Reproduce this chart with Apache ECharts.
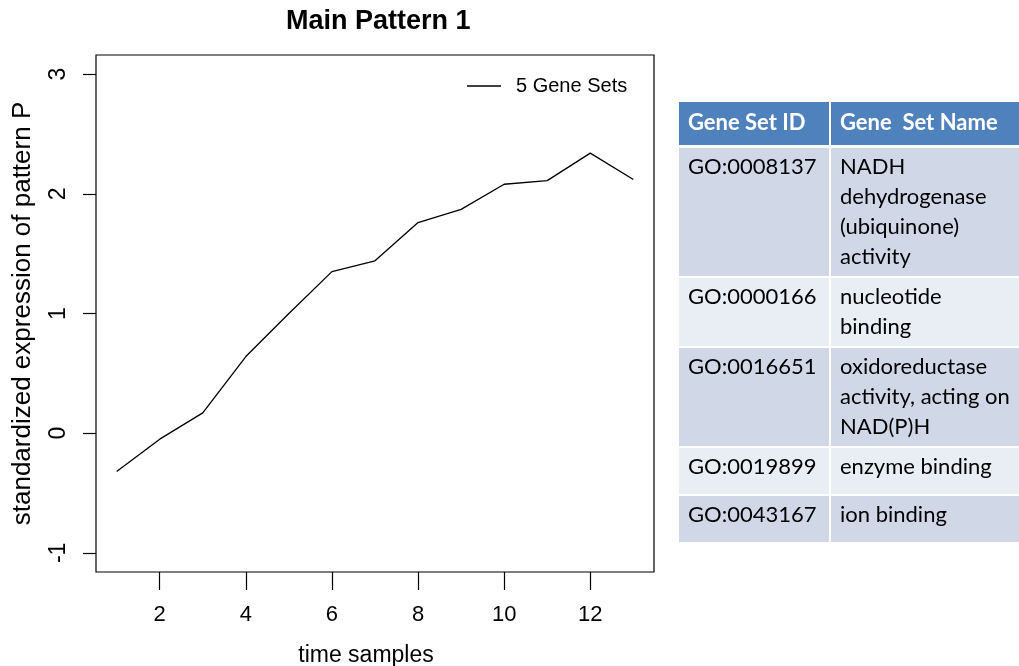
<!DOCTYPE html>
<html>
<head>
<meta charset="utf-8">
<title>Main Pattern 1</title>
<script src="https://cdn.jsdelivr.net/npm/echarts@6/dist/echarts.min.js"></script>
<style>
  html, body { margin: 0; padding: 0; background: #fff; }
  #chart { width: 1019px; height: 666px; }
</style>
</head>
<body>
<div id="chart"></div>
<script>
// Pattern profile over time
const timeSamples = [1, 2, 3, 4, 5, 6, 7, 8, 9, 10, 11, 12, 13];
const patternValues = [-0.32, -0.05, 0.17, 0.64, 1.00, 1.35, 1.44, 1.76, 1.87, 2.08, 2.11, 2.34, 2.12];
const xTickValues = [2, 4, 6, 8, 10, 12];
const yTickValues = [-1, 0, 1, 2, 3];
const seriesName = '5 Gene Sets';

// Gene set table
const tableHeaders = ['Gene Set ID', 'Gene  Set Name'];
const geneSetIds = ['GO:0008137', 'GO:0000166', 'GO:0016651', 'GO:0019899', 'GO:0043167'];
const geneSetNames = [
  'NADH\ndehydrogenase\n(ubiquinone)\nactivity',
  'nucleotide\nbinding',
  'oxidoreductase\nactivity, acting on\nNAD(P)H',
  'enzyme binding',
  'ion binding'
];

const RFONT = '"Liberation Sans", Arial, sans-serif';
const TFONT = 'Lato, "Open Sans", sans-serif';

// table layout
const tbl = {
  left: 679, top: 102, col1: 150, gap: 2, right: 1025,
  headerH: 43, headerGap: 3, lineH: 30, padTop: 4, padLeft: 9
};

function buildTable() {
  const els = [];
  const col2x = tbl.left + tbl.col1 + tbl.gap;
  const col2w = tbl.right - col2x;
  // header
  els.push({ type: 'rect', shape: { x: tbl.left, y: tbl.top, width: tbl.col1, height: tbl.headerH }, style: { fill: '#4F81BD' } });
  els.push({ type: 'rect', shape: { x: col2x, y: tbl.top, width: col2w, height: tbl.headerH }, style: { fill: '#4F81BD' } });
  [tbl.left, col2x].forEach((x, i) => {
    els.push({ type: 'text', style: { text: tableHeaders[i], x: x + tbl.padLeft, y: tbl.top + 6, font: 'bold 22px ' + TFONT, fill: '#fff', lineHeight: tbl.lineH, verticalAlign: 'top' } });
  });
  let y = tbl.top + tbl.headerH + tbl.headerGap;
  geneSetIds.forEach((id, r) => {
    const lines = geneSetNames[r].split('\n').length;
    const h = Math.max(46, 8 + tbl.lineH * lines);
    const fill = r % 2 === 0 ? '#D0D8E8' : '#E9EDF4';
    els.push({ type: 'rect', shape: { x: tbl.left, y: y, width: tbl.col1, height: h }, style: { fill: fill } });
    els.push({ type: 'rect', shape: { x: col2x, y: y, width: col2w, height: h }, style: { fill: fill } });
    els.push({ type: 'text', style: { text: id, x: tbl.left + tbl.padLeft, y: y + tbl.padTop, font: '22px ' + TFONT, fill: '#000', lineHeight: tbl.lineH, verticalAlign: 'top' } });
    els.push({ type: 'text', style: { text: geneSetNames[r], x: col2x + tbl.padLeft, y: y + tbl.padTop, font: '22px ' + TFONT, fill: '#000', lineHeight: tbl.lineH, verticalAlign: 'top' } });
    y += h + tbl.gap;
  });
  return els;
}

const chart = echarts.init(document.getElementById('chart'), null, { renderer: 'canvas' });

chart.setOption({
  animation: false,
  backgroundColor: '#fff',
  title: {
    text: 'Main Pattern 1',
    left: 286, top: 8, padding: 0,
    textStyle: { fontFamily: RFONT, fontWeight: 'bold', fontSize: 27, color: '#000' }
  },
  legend: {
    data: [seriesName],
    left: 467, top: 76, padding: 0,
    icon: 'rect',
    itemWidth: 34, itemHeight: 1.3,
    itemStyle: { color: '#000' },
    textStyle: { fontFamily: RFONT, fontSize: 20, color: '#000', padding: [0, 0, 0, 10] }
  },
  grid: {
    left: 96, top: 55, right: 365, bottom: 94,
    outerBoundsMode: 'none',
    show: true, borderColor: '#000', borderWidth: 1.2, backgroundColor: 'transparent'
  },
  xAxis: {
    type: 'value', min: 0.52, max: 13.48,
    name: 'time samples', nameLocation: 'middle', nameGap: 72,
    nameTextStyle: { fontFamily: RFONT, fontSize: 23, color: '#000', padding: [0, 18, 0, 0] },
    axisLine: { show: false, onZero: false },
    splitLine: { show: false },
    axisTick: { show: true, customValues: xTickValues, length: 18, lineStyle: { color: '#000', width: 1.2 } },
    axisLabel: { customValues: xTickValues, margin: 32, fontFamily: RFONT, fontSize: 22, color: '#000' }
  },
  yAxis: {
    type: 'value', min: -1.16, max: 3.16,
    name: 'standardized expression of pattern P', nameLocation: 'middle', nameGap: 60, nameRotate: 90,
    nameTextStyle: { fontFamily: RFONT, fontSize: 26, color: '#000' },
    axisLine: { show: false, onZero: false },
    splitLine: { show: false },
    axisTick: { show: true, customValues: yTickValues, length: 13, lineStyle: { color: '#000', width: 1.2 } },
    axisLabel: { customValues: yTickValues, rotate: 90, margin: 26, fontFamily: RFONT, fontSize: 23, color: '#000' }
  },
  series: [{
    name: seriesName,
    type: 'line',
    data: timeSamples.map((t, i) => [t, patternValues[i]]),
    symbol: 'none',
    lineStyle: { color: '#000', width: 1.3 },
    itemStyle: { color: '#000' }
  }],
  graphic: buildTable()
});
</script>
</body>
</html>
